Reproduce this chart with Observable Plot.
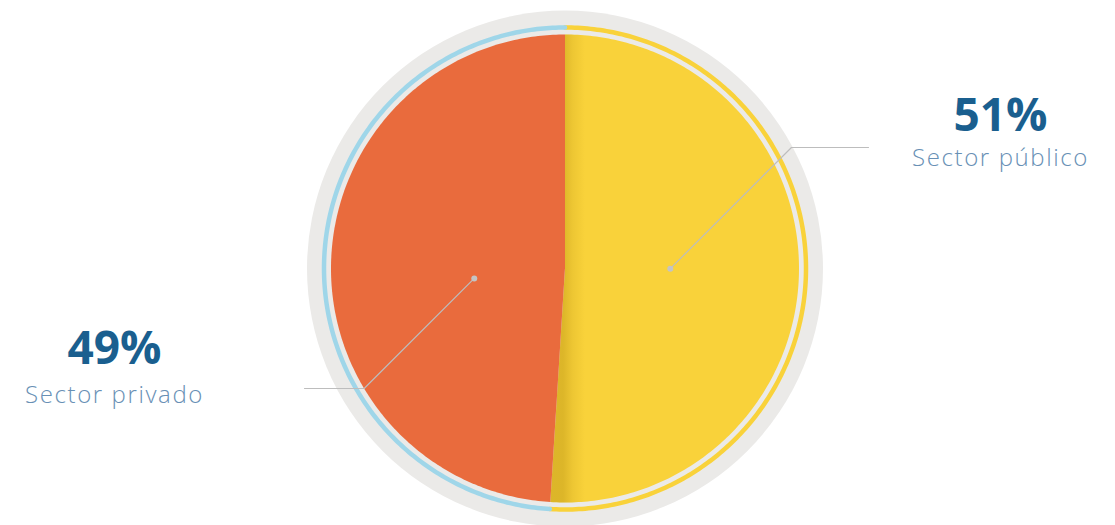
<!DOCTYPE html>
<html>
<head>
<meta charset="utf-8">
<script src="https://cdn.jsdelivr.net/npm/d3@7"></script>
<script src="https://cdn.jsdelivr.net/npm/@observablehq/plot@0.6"></script>
<style>
  html, body { margin: 0; padding: 0; background: #ffffff; }
  #chart svg { display: block; }
</style>
</head>
<body>
<div id="chart"></div>
<script>
// ---- data ----
const categories = ["Sector público", "Sector privado"];
const values = [51, 49];
const percentLabels = ["51%", "49%"];

// ---- styles ----
const sliceColors = ["#f9d23a", "#e96b3d"];
const ringColors = ["#f9d23a", "#9fd6e9"];
const diskColor = "#ebeae8";
const pctColor = "#1a5f8f";
const nameColor = "#6890b5";
const leaderColor = "#bdbdbd";

// ---- layout (pixels) ----
const W = 1115, H = 525;
const layout = { cx: 564.5, cy: 268, pieR: 234, ringR: 241, ringW: 4.5, diskR: 258 };
const labelLayout = [
  { x: 1000, pctY: 130, nameY: 165, leaderY: 147, leaderEndX: 868, dotR: 0.45, dotShift: -0.03 },
  { x: 114, pctY: 363, nameY: 402, leaderY: 388, leaderEndX: 304, dotR: 0.39, dotShift: -0.14 }
];

const X = px => (px - layout.cx) / layout.pieR;
const Y = py => (layout.cy - py) / layout.pieR;

const arcs = d3.pie().sort(null).value(d => d)(values);

function arcPoints(a0, a1, r, n = 240) {
  const pts = [];
  for (let i = 0; i <= n; i++) {
    const a = a0 + (a1 - a0) * i / n;
    pts.push({ x: r * Math.sin(a), y: r * Math.cos(a) });
  }
  return pts;
}

const marks = [];
// grey disk
marks.push(Plot.dot([{ x: 0, y: 0 }], { x: "x", y: "y", r: layout.diskR, fill: diskColor, stroke: "none" }));
// colored ring
arcs.forEach((a, i) => {
  marks.push(Plot.line(arcPoints(a.startAngle, a.endAngle, layout.ringR / layout.pieR), {
    x: "x", y: "y", stroke: ringColors[i], strokeWidth: layout.ringW, curve: "linear"
  }));
});
// slices
arcs.forEach((a, i) => {
  const pts = [{ x: 0, y: 0 }, ...arcPoints(a.startAngle, a.endAngle, 1), { x: 0, y: 0 }];
  marks.push(Plot.line(pts, { x: "x", y: "y", fill: sliceColors[i], stroke: "none", curve: "linear" }));
  if (i === 0) {
    marks.push(Plot.line(pts, { x: "x", y: "y", fill: "url(#shade)", stroke: "none", curve: "linear" }));
  }
});
// leaders + labels
arcs.forEach((a, i) => {
  const L = labelLayout[i];
  const m = (a.startAngle + a.endAngle) / 2 + L.dotShift;
  const dx0 = L.dotR * Math.sin(m), dy0 = L.dotR * Math.cos(m);
  const ey = Y(L.leaderY);
  const ex = dx0 + Math.sign(Math.sin(m)) * Math.abs(ey - dy0);
  const path = [{ x: dx0, y: dy0 }, { x: ex, y: ey }, { x: X(L.leaderEndX), y: ey }];
  marks.push(Plot.line(path, { x: "x", y: "y", stroke: leaderColor, strokeWidth: 1.2 }));
  marks.push(Plot.dot([path[0]], { x: "x", y: "y", r: 3, fill: "#c4c4c4", stroke: "none" }));
  marks.push(Plot.text([percentLabels[i]], {
    x: () => X(L.x), y: () => Y(L.pctY), text: d => d,
    fill: pctColor, fontSize: 46, fontWeight: 700, fontFamily: "'Open Sans', sans-serif",
    textAnchor: "middle", lineAnchor: "bottom"
  }));
  marks.push(Plot.text([categories[i]], {
    x: () => X(L.x), y: () => Y(L.nameY), text: d => d,
    fill: nameColor, fontSize: 24, fontWeight: 300, fontFamily: "'Open Sans', sans-serif",
    textAnchor: "middle", lineAnchor: "bottom"
  }));
});

const chart = Plot.plot({
  width: W, height: H,
  margin: 0,
  x: { type: "linear", domain: [X(0), X(W)], range: [0, W], axis: null },
  y: { type: "linear", domain: [Y(H), Y(0)], range: [H, 0], axis: null },
  style: { background: "#ffffff" },
  marks
});

const svg = d3.select(chart);
// wider tracking on the category names
svg.selectAll("text").filter(function () { return categories.includes(this.textContent); })
  .attr("letter-spacing", "1.6px");

// shading gradient along the yellow slice's edge
const defs = svg.insert("defs", ":first-child");
const g = defs.append("linearGradient").attr("id", "shade")
  .attr("gradientUnits", "userSpaceOnUse")
  .attr("x1", layout.cx - 2).attr("y1", 0).attr("x2", layout.cx + 20).attr("y2", 0);
g.append("stop").attr("offset", 0).attr("stop-color", "#9a7400").attr("stop-opacity", 0.3);
g.append("stop").attr("offset", 0.45).attr("stop-color", "#9a7400").attr("stop-opacity", 0.12);
g.append("stop").attr("offset", 1).attr("stop-color", "#9a7400").attr("stop-opacity", 0);

document.getElementById("chart").appendChild(chart);
</script>
</body>
</html>
